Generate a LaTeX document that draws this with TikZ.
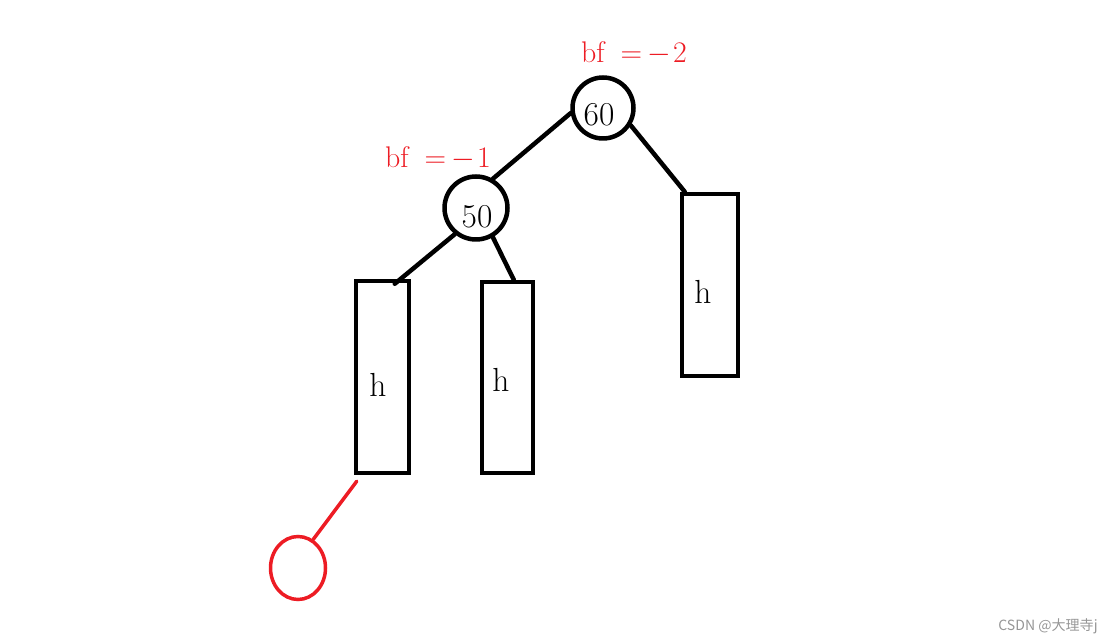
\documentclass[tikz,border=0pt]{standalone}
\usepackage{fontspec}
\newfontfamily\cjk{Noto Sans CJK SC}
\usetikzlibrary{shapes.geometric,calc}
\definecolor{bfred}{RGB}{237,28,36}
\definecolor{wmgray}{RGB}{150,150,150}
\begin{document}
\begin{tikzpicture}[x=0.02cm,y=-0.02cm,
  treenode/.style={circle,draw,line width=0.09cm,inner sep=0pt,minimum size=#1},
  subtree/.style={draw,line width=0.09cm,inner sep=0pt},
  edge/.style={line width=0.09cm,line cap=round},
  bflabel/.style={text=bfred,font=\fontsize{17}{20}\selectfont,inner sep=0pt},
  keytext/.style={font=\fontsize{19}{22}\selectfont,inner sep=0pt}]
\useasboundingbox (0,0) rectangle (1118,644);
% tree nodes
\node[treenode=1.22cm] (n60) at (603,108) {};
\node[treenode=1.26cm] (n50) at (476,208) {};
\node[keytext] (k60) at (599,115) {60};
\node[keytext] (k50) at (477,217) {50};
% subtrees
\node[subtree,minimum width=1.06cm,minimum height=3.84cm] (hl) at (382.5,377) {};
\node[subtree,minimum width=1.02cm,minimum height=3.82cm] (hm) at (507.5,377.5) {};
\node[subtree,minimum width=1.12cm,minimum height=3.64cm] (hr) at (710,285) {};
\node[keytext] (tl) at (378,385) {h};
\node[keytext] (tm) at (501,380) {h};
\node[keytext] (tr) at (703,292) {h};
% new node
\node[ellipse,draw=bfred,line width=0.07cm,inner sep=0pt,minimum width=1.1cm,minimum height=1.26cm] (nw) at (298,568) {};
% labels
\node[bflabel] (bf60) at (634,53) {bf\hspace{0.32cm}=\hspace{0.11cm}$-$\hspace{0.04cm}2};
\node[bflabel] (bf50) at (438,158) {bf\hspace{0.32cm}=\hspace{0.11cm}$-$\hspace{0.04cm}1};
% edges
\draw[edge] (n60.189) -- (n50.60);
\draw[edge] (n60.328) -- ($(hr.north west)+(5,0)$);
\draw[edge] (n50.231) -- ($(hl.north west)+(41,5)$);
\draw[edge] (n50.300) -- ($(hm.north west)+(34,0)$);
\draw[edge,draw=bfred,line width=0.07cm] ($(hl.south west)+(3,6)$) -- (nw.62);
% watermark
\node[text=wmgray,font=\cjk\fontsize{8}{10}\selectfont,inner sep=0pt] (wm) at (1048,626) {CSDN @大理寺j};
\end{tikzpicture}
\end{document}
